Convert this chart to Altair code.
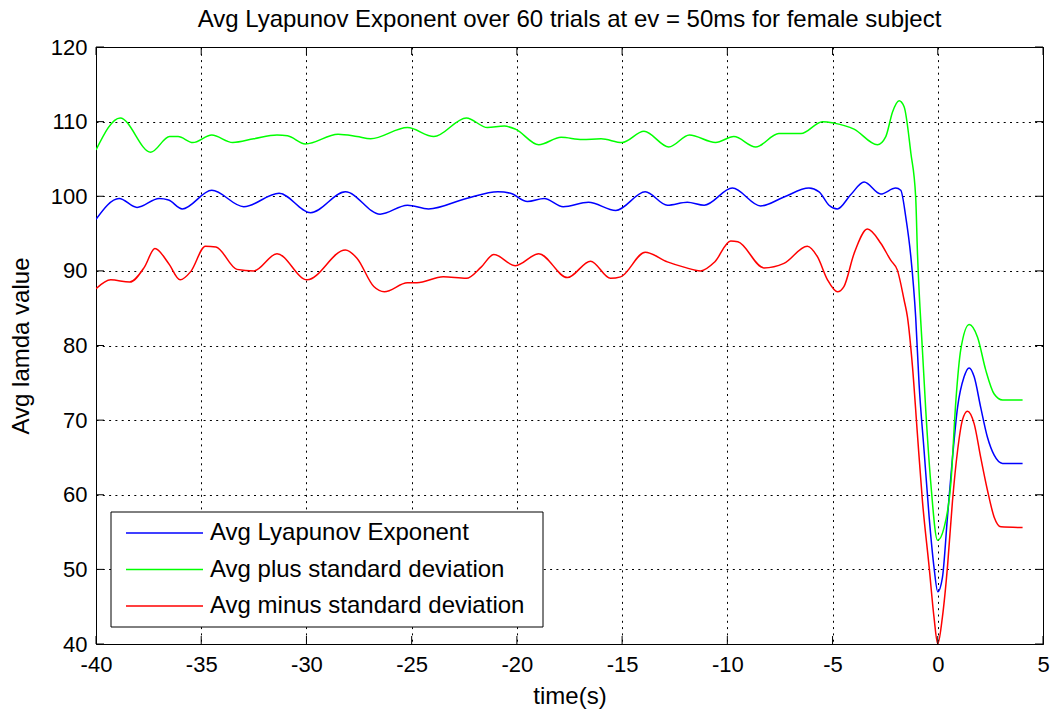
import altair as alt
import pandas as pd

series_names = ["Avg Lyapunov Exponent", "Avg plus standard deviation", "Avg minus standard deviation"]
series_colors = ["#0000ff", "#00ff00", "#ff0000"]

avg_t = [-40, -38.9, -38.05, -37.0, -36.55, -35.9, -34.5, -32.98, -31.3, -29.8, -28.15, -26.5, -25.2,
         -24.2, -22.4, -20.9, -20.3, -19.5, -18.7, -17.8, -16.6, -15.3, -13.9, -12.85, -11.9, -11.1,
         -9.76, -8.42, -7.31, -6.12, -5.64, -5.17, -4.77, -4.14, -3.5, -2.71, -2.0, -1.76, -1.52,
         -1.28, -1.05, -0.89, -0.65, -0.41, -0.18, 0.0, 0.22, 0.46, 0.7, 0.94, 1.25, 1.49, 1.73, 2.04,
         2.36, 2.68, 3.08, 4.03]
avg_v = [96.9, 99.7, 98.5, 99.7, 99.5, 98.3, 100.8, 98.6, 100.4, 97.8, 100.6, 97.6, 98.8,
         98.3, 99.7, 100.6, 100.4, 99.3, 99.7, 98.6, 99.2, 98.1, 100.6, 98.8, 99.2, 98.8,
         101.1, 98.7, 99.9, 101.1, 100.6, 98.8, 98.3, 100.2, 101.9, 100.3, 101.1, 100.8, 97.2,
         91.9, 83.8, 74.9, 65.9, 57.0, 50.3, 47.0, 48.9, 57.0, 65.0, 71.7, 75.8, 77.0, 75.8, 71.7,
         67.7, 65.3, 64.2, 64.2]

plus_t = [-40, -38.85, -37.4, -36.5, -36.1, -35.4, -34.5, -33.5, -32.5, -31.4, -30.9, -30.05, -28.5,
          -27.6, -26.95, -25.2, -23.95, -22.4, -21.4, -20.6, -20.07, -18.96, -17.9, -16.9, -16.0,
          -15.0, -13.96, -12.78, -11.8, -10.56, -9.69, -8.65, -7.55, -6.5, -5.48, -4.93, -3.98,
          -2.87, -2.47, -2.15, -1.84, -1.6, -1.28, -1.05, -0.97, -0.73, -0.57, -0.33, -0.01, 0.3,
          0.62, 0.86, 1.09, 1.49, 1.89, 2.28, 2.68, 3.08, 4.03]
plus_v = [106.2, 110.5, 105.9, 108.0, 108.0, 107.2, 108.2, 107.2, 107.7, 108.2, 108.1, 107.0, 108.3,
          108.0, 107.7, 109.2, 108.0, 110.5, 109.2, 109.4, 109.0, 106.9, 107.9, 107.6, 107.7,
          107.2, 108.7, 106.6, 108.2, 107.2, 108.0, 106.6, 108.4, 108.4, 110.0, 109.8, 109.0,
          106.9, 108.0, 111.3, 112.8, 112.0, 105.8, 99.9, 92.8, 79.4, 71.3, 61.5, 53.9, 55.6,
          61.5, 72.6, 79.4, 82.8, 81.1, 76.7, 73.5, 72.7, 72.7]

minus_t = [-40, -39.3, -38.4, -37.7, -37.2, -36.55, -36.0, -35.5, -34.8, -34.3, -33.3, -32.5, -31.4,
           -29.97, -28.15, -27.6, -26.8, -26.3, -25.2, -24.75, -23.5, -22.4, -21.7, -21.1, -20.07,
           -18.96, -17.6, -16.5, -15.55, -15.07, -13.9, -12.85, -12.06, -11.27, -10.6, -9.84, -9.5,
           -8.26, -7.31, -6.2, -5.72, -5.24, -4.77, -4.46, -3.98, -3.34, -2.71, -2.23, -1.92, -1.6,
           -1.44, -1.2, -0.97, -0.73, -0.41, -0.18, 0.0, 0.22, 0.46, 0.7, 0.94, 1.17, 1.41, 1.73,
           2.04, 2.36, 2.68, 3.0, 4.03]
minus_v = [87.6, 88.8, 88.5, 90.5, 93.0, 91.0, 88.8, 89.9, 93.3, 93.2, 90.2, 90.0, 92.3,
           88.8, 92.8, 91.7, 87.9, 87.2, 88.4, 88.4, 89.2, 89.0, 90.5, 92.2, 90.7,
           92.3, 89.1, 91.3, 89.0, 89.2, 92.5, 91.2, 90.5, 90.0, 91.2, 94.0, 93.9,
           90.4, 91.0, 93.3, 91.9, 88.8, 87.2, 87.9, 92.3, 95.6, 93.7, 91.4, 90.1, 86.1,
           83.8, 77.1, 68.2, 59.2, 50.3, 43.6, 40.0, 43.6, 50.3, 59.2, 65.9, 70.0, 71.2, 69.5,
           65.0, 60.6, 57.0, 55.7, 55.6]

x_ticks = [-40, -35, -30, -25, -20, -15, -10, -5, 0, 5]
y_ticks = [40, 50, 60, 70, 80, 90, 100, 110, 120]

title_text = "Avg Lyapunov Exponent over 60 trials at ev = 50ms for female subject"
x_title = "time(s)"
y_title = "Avg lamda value"

rows = []
for name, ts, vs in zip(series_names, [avg_t, plus_t, minus_t], [avg_v, plus_v, minus_v]):
    for t, v in zip(ts, vs):
        rows.append({"series": name, "t": t, "v": v})
df = pd.DataFrame(rows)

W, H = 947, 597
FONT = "Liberation Sans"
xs = alt.Scale(domain=[-40, 5], nice=False, zero=False)
ys = alt.Scale(domain=[40, 120], nice=False, zero=False)
cs = alt.Scale(domain=series_names, range=series_colors)

x_axis = alt.Axis(values=x_ticks, title=x_title, titleX=W / 2, titleY=52,
                  titleBaseline="middle", labelPadding=10, labelExpr="'' + datum.value")
y_axis = alt.Axis(values=y_ticks, title=y_title, titleX=-75, titleY=H / 2,
                  titleAngle=-90, titleBaseline="middle", titleAlign="center", labelPadding=9,
                  labelExpr="'' + datum.value")

lines = alt.Chart(df).mark_line(interpolate="monotone", strokeWidth=1.5, clip=True).encode(
    x=alt.X("t:Q", scale=xs, axis=x_axis),
    y=alt.Y("v:Q", scale=ys, axis=y_axis),
    color=alt.Color("series:N", scale=cs, legend=None),
)

# inward ticks on all four sides (MATLAB box style)
xt = pd.DataFrame({"t": x_ticks})
yt = pd.DataFrame({"v": y_ticks})
TL = 8
tick_bottom = alt.Chart(xt).mark_rule(color="black", strokeWidth=1).encode(
    x=alt.X("t:Q", scale=xs, axis=x_axis), y=alt.value(H), y2=alt.value(H - TL))
tick_top = alt.Chart(xt).mark_rule(color="black", strokeWidth=1).encode(
    x=alt.X("t:Q", scale=xs, axis=x_axis), y=alt.value(0), y2=alt.value(TL))
tick_left = alt.Chart(yt).mark_rule(color="black", strokeWidth=1).encode(
    y=alt.Y("v:Q", scale=ys, axis=y_axis), x=alt.value(0), x2=alt.value(TL))
tick_right = alt.Chart(yt).mark_rule(color="black", strokeWidth=1).encode(
    y=alt.Y("v:Q", scale=ys, axis=y_axis), x=alt.value(W), x2=alt.value(W - TL))

# legend box drawn in the lower-left corner
leg_df = pd.DataFrame({"series": series_names, "row": list(range(len(series_names)))})
LX, LY, LW, LH = 15, 465, 432, 115
ROW0, ROWSTEP = 486, 36.5
leg_box = alt.Chart(pd.DataFrame({"k": [0]})).mark_rect(
    fill="white", stroke="black", strokeWidth=1).encode(
    x=alt.value(LX), x2=alt.value(LX + LW), y=alt.value(LY), y2=alt.value(LY + LH))
leg_lines = alt.Chart(leg_df).transform_calculate(
    py=f"{ROW0} + datum.row * {ROWSTEP}").mark_rule(strokeWidth=1.5).encode(
    x=alt.value(30), x2=alt.value(107), y=alt.Y("py:Q", scale=None),
    color=alt.Color("series:N", scale=cs, legend=None))
leg_text = alt.Chart(leg_df).transform_calculate(
    py=f"{ROW0} + datum.row * {ROWSTEP}").mark_text(
    align="left", baseline="middle", font=FONT, fontSize=24, color="black").encode(
    x=alt.value(114), y=alt.Y("py:Q", scale=None), text="series:N")

chart = alt.layer(lines, tick_bottom, tick_top, tick_left, tick_right,
                  leg_box, leg_lines, leg_text).properties(
    width=W, height=H,
    title=alt.TitleParams(title_text, font=FONT, fontSize=24, fontWeight="normal", color="black",
                          anchor="middle", offset=4),
    autosize=alt.AutoSizeParams(type="none"),
    padding={"left": 96, "top": 47, "right": 13, "bottom": 69},
    background="white",
).configure_view(stroke="black", strokeWidth=1).configure_axis(
    domain=False, ticks=False, grid=True, gridColor="black", gridDash=[2, 4.3], gridWidth=1,
    gridOpacity=1, labelFont=FONT, labelFontSize=22, labelColor="black", titleFont=FONT,
    titleFontSize=24, titleFontWeight="normal", titleColor="black", labelOverlap=False,
    labelFlush=False, labelBound=False,
)

chart.save("out.html", embed_options={"renderer": "svg", "actions": False})
